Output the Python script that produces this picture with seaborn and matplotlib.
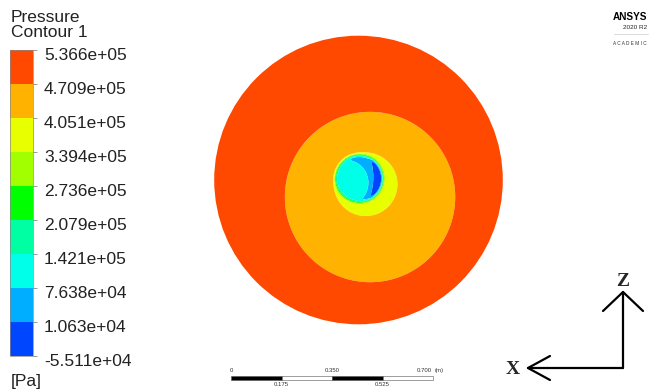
import numpy as np
import matplotlib
matplotlib.use("Agg")
import matplotlib.pyplot as plt
from matplotlib.colors import ListedColormap, BoundaryNorm
from matplotlib.cm import ScalarMappable
from matplotlib.patches import Circle, Rectangle
from matplotlib.transforms import ScaledTranslation
import seaborn as sns

# ---- contour legend ---------------------------------------------------------
levels = [-5.511e4, 1.063e4, 7.638e4, 1.421e5, 2.079e5,
          2.736e5, 3.394e5, 4.051e5, 4.709e5, 5.366e5]
level_labels = ["-5.511e+04", "1.063e+04", "7.638e+04", "1.421e+05", "2.079e+05",
                "2.736e+05", "3.394e+05", "4.051e+05", "4.709e+05", "5.366e+05"]
band_colors = ["#0046FF", "#00AEFF", "#00FFE8", "#00FFA2", "#00FF00",
               "#A2FF00", "#E8FF00", "#FFB200", "#FF4800"]

# ---- pressure zones (Pa) ----------------------------------------------------
p_outer = 5.0e5
p_inner = 4.4e5
p_halo = 3.7e5
p_core = 1.15e5
core_drop = [6.5e4, 1.0e5]   # low-pressure pockets inside the core

# ---- zone geometry (m): centre x, centre y, radius ----------------------------
domain_r = 0.5
inner_zone = (0.040, -0.059, 0.295)
halo_zone = (0.025, -0.015, 0.110)
core_zone = (0.002, 0.005, 0.082)
pocket_zone = (-0.045, -0.010, 0.078)
deep_zone = (-0.150, 0.010, 0.203)

# ---- scale bar --------------------------------------------------------------
scale_ticks = [0.0, 0.175, 0.350, 0.525, 0.700]
scale_top = ["0", "0.350", "0.700"]
scale_bottom = ["0.175", "0.525"]

sns.set_theme(style="white")
plt.rcParams["font.family"] = ["Liberation Sans", "DejaVu Sans"]

W, H = 649, 390
fig = plt.figure(figsize=(W / 100, H / 100), dpi=100)
fig.patch.set_facecolor("white")

# field axes in metres
px_per_m = 288.6
cx_px, cy_px = 358.5, 180.0
ax = fig.add_axes([0, 0, 1, 1])
ax.set_xlim(-cx_px / px_per_m, (W - cx_px) / px_per_m)
ax.set_ylim(-(H - cy_px) / px_per_m, cy_px / px_per_m)
ax.axis("off")

g = np.linspace(-domain_r - 0.01, domain_r + 0.01, 700)
X, Y = np.meshgrid(g, g)


def inside(zone, w):
    zx, zy, r = zone
    d = np.hypot(X - zx, Y - zy)
    return 0.5 * (1 - np.tanh((d - r) / (2 * w)))


P = np.full_like(X, p_outer)
s = inside(inner_zone, 0.002)
P = P + (p_inner - P) * s
s = inside(halo_zone, 0.003)
P = P + (p_halo - P) * s
core_val = (p_core
            - core_drop[0] * (1 - inside(pocket_zone, 0.004))
            - core_drop[1] * (1 - inside(deep_zone, 0.004)))
s = inside(core_zone, 0.003)
P = P + (core_val - P) * s

cmap = ListedColormap(sns.color_palette(band_colors))
norm = BoundaryNorm(levels, cmap.N)
cs = ax.contourf(X, Y, np.clip(P, levels[0], levels[-1]), levels=levels,
                 cmap=cmap, norm=norm, antialiased=True)
clip = Circle((0, 0), domain_r, transform=ax.transData)
cs.set_clip_path(clip)

# scale bar
bar_x0 = (231 - cx_px) / px_per_m
bar_y0 = (cy_px - 380) / px_per_m
bar_h = 4 / px_per_m
for i in range(len(scale_ticks) - 1):
    ax.add_patch(Rectangle((bar_x0 + scale_ticks[i], bar_y0),
                           scale_ticks[i + 1] - scale_ticks[i], bar_h,
                           facecolor="black" if i % 2 == 0 else "white",
                           edgecolor="#555555", linewidth=0.4))
small = dict(fontsize=4.3, color="#333333")
top_y = bar_y0 + bar_h + 3 / px_per_m
bot_y = bar_y0 - 2 / px_per_m
for val, lab in zip(scale_ticks[::2], scale_top):
    if lab == "0.700":
        ax.text(bar_x0 + val - 1 / px_per_m, top_y, lab, ha="right", va="bottom", **small)
        ax.text(bar_x0 + val + 2 / px_per_m, top_y, "(m)", ha="left", va="bottom", **small)
    else:
        ax.text(bar_x0 + val, top_y, lab, ha="center", va="bottom", **small)
for val, lab in zip(scale_ticks[1::2], scale_bottom):
    ax.text(bar_x0 + val, bot_y, lab, ha="center", va="top", **small)

# colour legend
cax = fig.add_axes([10 / W, (H - 356) / H, 23 / W, 306 / H])
cb = fig.colorbar(ScalarMappable(norm=norm, cmap=cmap), cax=cax,
                  boundaries=levels, ticks=levels, spacing="uniform")
cb.outline.set_linewidth(0.5)
cb.outline.set_edgecolor("#888888")
cax.set_yticks(levels)
cax.set_yticklabels(level_labels)
cax.tick_params(axis="y", length=3, width=0.6, color="#888888", pad=5,
                labelsize=12.5, labelcolor="#222222", direction="out")
shift = ScaledTranslation(0, -4 / 100, fig.dpi_scale_trans)
for lab in cax.get_yticklabels():
    lab.set_transform(lab.get_transform() + shift)

# overlay in pixel coordinates for text and the axis triad
ov = fig.add_axes([0, 0, 1, 1])
ov.set_xlim(0, W)
ov.set_ylim(H, 0)
ov.axis("off")
ov.patch.set_alpha(0)

ov.text(11, 22, "Pressure", fontsize=12.5, color="#222222", va="baseline")
ov.text(11, 37, "Contour 1", fontsize=12.5, color="#222222", va="baseline")
ov.text(11, 386, "[Pa]", fontsize=12.5, color="#222222", va="baseline")

ov.text(647, 20, "ANSYS", fontsize=7.2, fontweight="bold", ha="right",
        va="baseline", color="black")
ov.text(647, 29, "2020 R2", fontsize=4.6, ha="right", va="baseline", color="#222222")
ov.plot([614, 648], [33.5, 33.5], color="#cccccc", lw=0.5)
ov.text(647, 45, "A C A D E M I C", fontsize=3.4, ha="right", va="baseline",
        color="#333333")

# axis triad
tri = dict(color="black", lw=1.6, solid_capstyle="round")
ov.plot([623, 623], [368, 292], **tri)
ov.plot([603, 623, 643], [311, 292, 311], **tri)
ov.plot([623, 528], [368, 368], **tri)
ov.plot([550, 528, 550], [356, 368, 380], **tri)
ov.text(623, 286, "Z", fontsize=14, fontweight="bold", family="Liberation Serif",
        ha="center", va="baseline")
ov.text(513, 374, "X", fontsize=14, fontweight="bold", family="Liberation Serif",
        ha="center", va="baseline")

fig.savefig("out.png", dpi=100, facecolor="white")
